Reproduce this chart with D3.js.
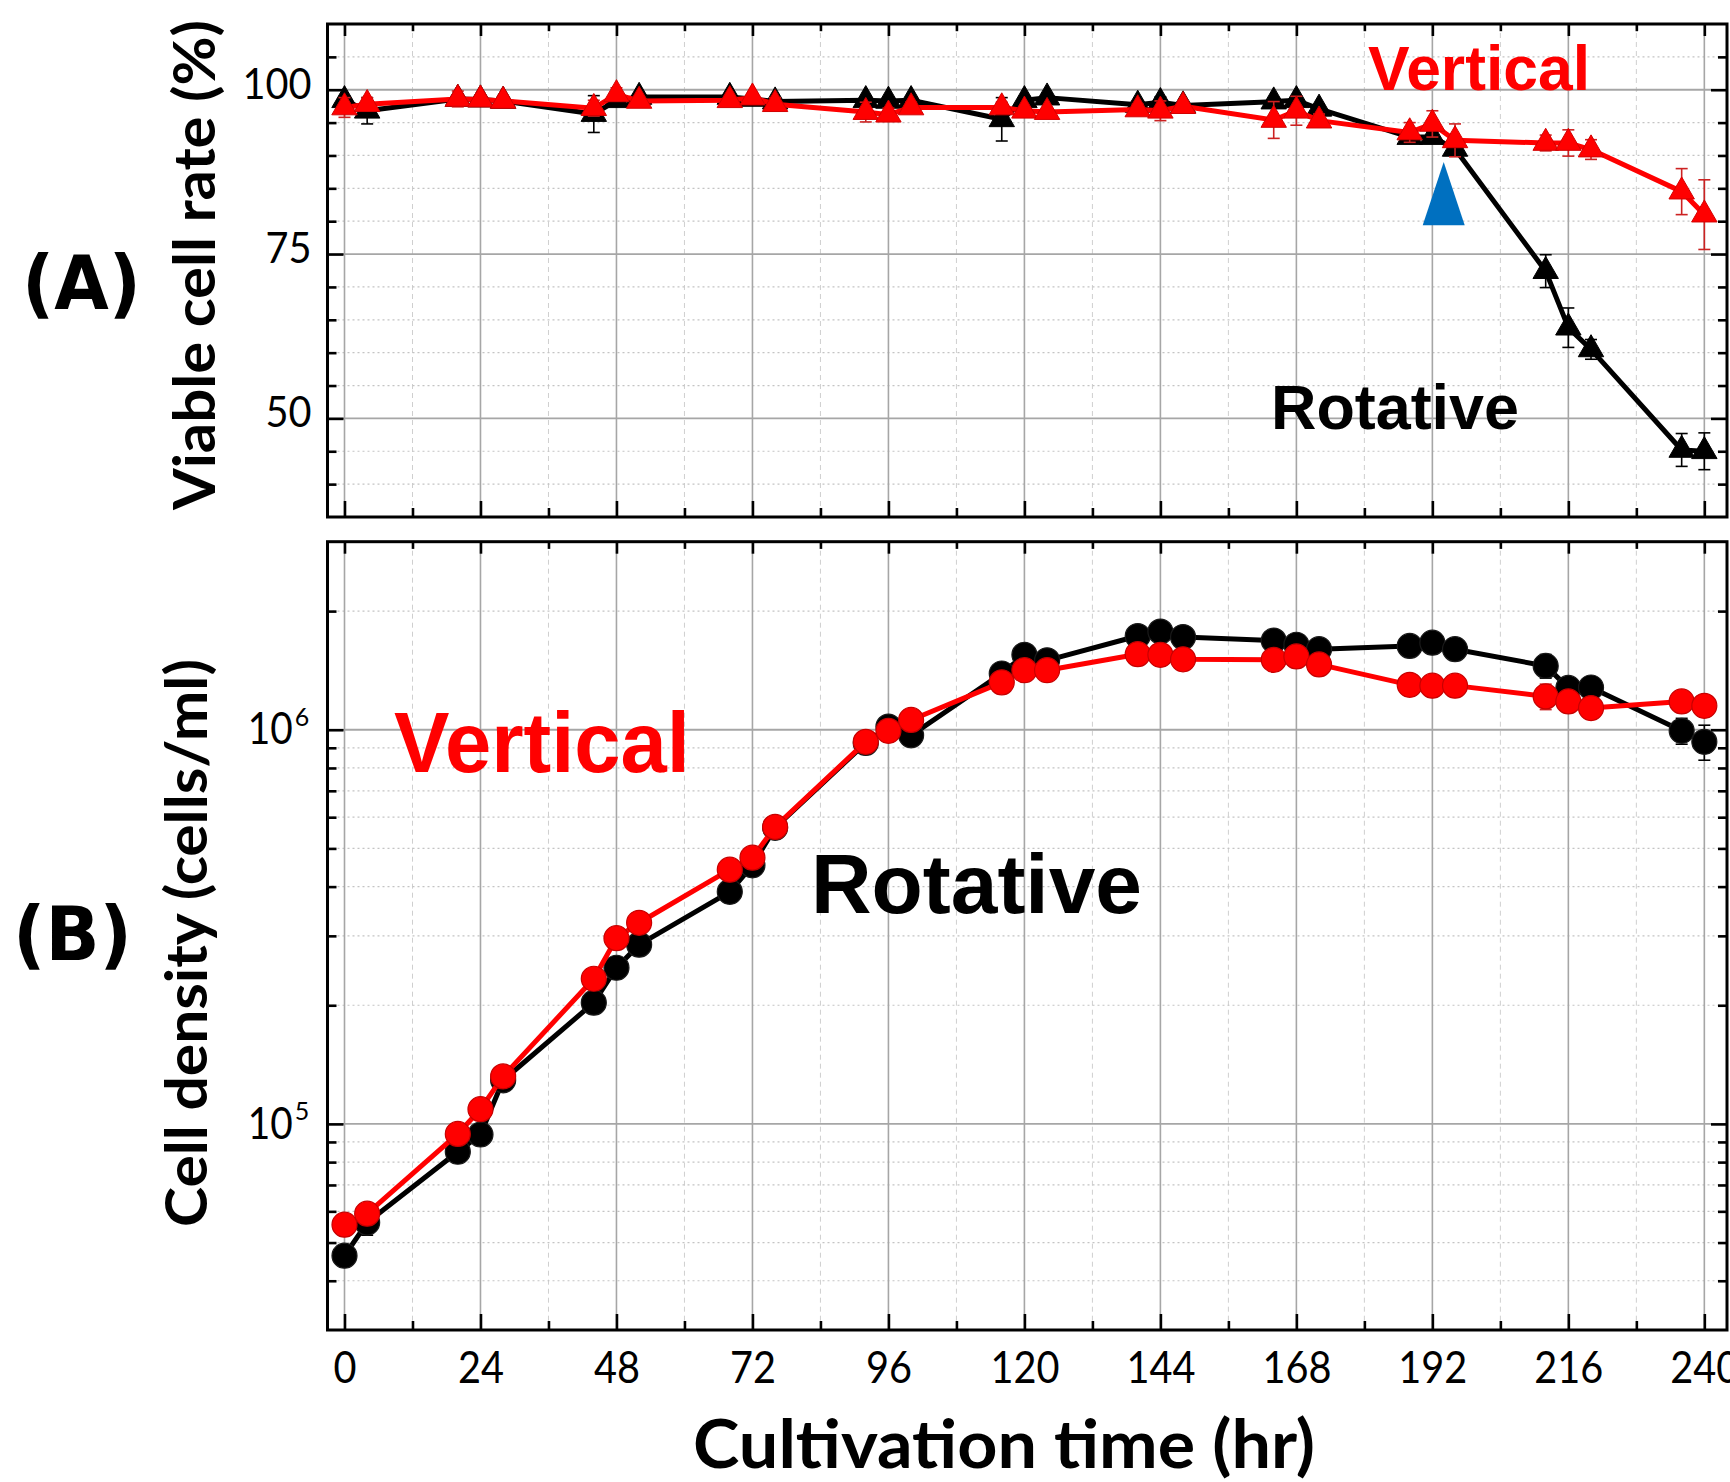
<!DOCTYPE html>
<html>
<head>
<meta charset="utf-8">
<script src="https://cdn.jsdelivr.net/npm/d3@7"></script>
<style>
  html, body { margin: 0; padding: 0; background: #fff; }
  svg { display: block; }
</style>
</head>
<body>
<svg id="chart" width="1730" height="1482"></svg>
<script>
// ---------------- DATA ----------------
const times = [0, 4, 20, 24, 28, 44, 48, 52, 68, 72, 76, 92, 96, 100, 116, 120, 124,
               140, 144, 148, 164, 168, 172, 188, 192, 196, 212, 216, 220, 236, 240];

// (A) Viable cell rate (%)
const viabRot = [98.4, 96.8, 98.6, 98.5, 98.3, 96.3, 98.4, 98.9, 98.9, 98.6, 98.2, 98.4, 98.3, 98.4, 95.5, 98.4, 98.8,
                 97.7, 98.1, 97.6, 98.2, 98.4, 97.1, 92.8, 92.8, 91.0, 72.4, 63.8, 60.5, 45.2, 45.0];
const viabRotErr = [0.6, 2.0, 0.5, 0.5, 0.5, 2.8, 0.8, 0.5, 0.5, 0.5, 0.5, 0.5, 0.5, 0.5, 3.3, 0.6, 0.5,
                    0.6, 0.8, 0.5, 0.6, 0.6, 0.6, 0.8, 0.8, 1.0, 2.5, 3.0, 1.5, 2.5, 2.8];
const viabVer = [97.3, 97.8, 98.6, 98.5, 98.3, 97.2, 99.3, 98.3, 98.4, 98.8, 97.8, 96.6, 96.2, 97.3, 97.3, 96.8, 96.6,
                 97.0, 96.8, 97.5, 95.4, 96.8, 95.3, 93.5, 94.8, 92.3, 91.9, 91.9, 90.9, 84.5, 81.0];
const viabVerErr = [1.5, 1.0, 1.2, 0.6, 0.8, 1.2, 1.0, 0.6, 0.6, 0.6, 1.0, 1.5, 1.0, 0.8, 0.8, 0.6, 0.6,
                    0.8, 1.5, 0.8, 2.8, 2.2, 1.0, 1.5, 2.0, 2.5, 1.2, 2.0, 1.5, 3.5, 5.3];

// (B) Cell density (cells/ml)
const densRot = [46300, 56200, 85000, 94000, 129000, 203000, 249000, 285000, 388000, 453000, 564000, 926000, 1019000, 968000,
                 1389000, 1549000, 1500000, 1729000, 1775000, 1718000, 1684000, 1643000, 1601000, 1632000, 1663000, 1601000,
                 1452000, 1277000, 1280000, 994000, 932000];
const densRotErr = [1500, 4000, 2000, 2500, 3000, 5000, 15000, 6000, 8000, 10000, 10000, 15000, 15000, 15000,
                    20000, 20000, 20000, 25000, 25000, 25000, 25000, 25000, 25000, 40000, 30000, 100000,
                    100000, 40000, 40000, 75000, 95000];
const densVer = [55500, 59200, 94300, 109000, 132000, 233500, 296000, 323800, 441500, 473600, 567000, 932000, 994000, 1059000,
                 1319000, 1416000, 1416000, 1555000, 1549000, 1509000, 1505000, 1535000, 1465000, 1300000, 1294000, 1294000,
                 1215000, 1180000, 1135000, 1180000, 1150000];
const densVerErr = [3000, 2000, 2000, 2500, 3000, 5000, 6000, 6000, 8000, 8000, 10000, 15000, 15000, 15000,
                    20000, 20000, 20000, 25000, 25000, 25000, 25000, 25000, 25000, 25000, 25000, 25000,
                    90000, 60000, 30000, 30000, 30000];

// Ticks
const xMajorTicks = [0, 24, 48, 72, 96, 120, 144, 168, 192, 216, 240];
const xMinorTicks = [12, 36, 60, 84, 108, 132, 156, 180, 204, 228];
const yMajorTicksA = [50, 75, 100];
const yMinorTicksA = [40, 45, 55, 60, 65, 70, 80, 85, 90, 95, 105];
const yMajorTicksB = [1e5, 1e6];
const yMinorTicksB = [4e4, 5e4, 6e4, 7e4, 8e4, 9e4, 2e5, 3e5, 4e5, 5e5, 6e5, 7e5, 8e5, 9e5, 2e6];

// Labels
const xTitle = "Cultivation time (hr)";
const yTitleA = "Viable cell rate (%)";
const yTitleB = "Cell density (cells/ml)";
const seriesNames = ["Rotative", "Vertical"];
const arrowAt = { t: 194, tip: 89, base: 79.4 };   // blue arrow annotation (data units)

// ---------------- LAYOUT ----------------
const svg = d3.select("#chart");
const X0 = 327.5, X1 = 1727;
const A = { top: 24, bottom: 517 };
const B = { top: 541.7, bottom: 1330 };

const x = d3.scaleLinear().domain([-3, 244]).range([X0, X1]);
const yA = d3.scaleLinear().domain([35, 110]).range([A.bottom, A.top]);
const yB = d3.scaleLog().domain([3e4, 3e6]).range([B.bottom, B.top]);

const RED = "#ff0000", BLACK = "#000000";
const tickFont = "Lato, 'Open Sans', sans-serif";

function panel(y, box, majorY, minorY) {
  const g = svg.append("g");
  g.selectAll(".vminor").data(xMinorTicks).join("line")
    .attr("x1", d => x(d)).attr("x2", d => x(d)).attr("y1", box.top).attr("y2", box.bottom)
    .attr("stroke", "#cfcfcf").attr("stroke-width", 1).attr("stroke-dasharray", "5,4");
  g.selectAll(".hminor").data(minorY).join("line")
    .attr("x1", X0).attr("x2", X1).attr("y1", d => y(d)).attr("y2", d => y(d))
    .attr("stroke", "#c4c4c4").attr("stroke-width", 1.2).attr("stroke-dasharray", "2,3");
  g.selectAll(".vmajor").data(xMajorTicks).join("line")
    .attr("x1", d => x(d)).attr("x2", d => x(d)).attr("y1", box.top).attr("y2", box.bottom)
    .attr("stroke", "#a6a6a6").attr("stroke-width", 1.6);
  g.selectAll(".hmajor").data(majorY).join("line")
    .attr("x1", X0).attr("x2", X1).attr("y1", d => y(d)).attr("y2", d => y(d))
    .attr("stroke", "#a6a6a6").attr("stroke-width", 1.8);
  return g;
}

function axesFor(y, box, majorY, minorY, showX) {
  const g = svg.append("g").attr("class", "axes");
  const MAJ = 16, MIN = 9;
  const style = sel => { sel.select(".domain").remove(); sel.selectAll("line").attr("stroke", "#000").attr("stroke-width", 2.6); };
  g.append("g").attr("transform", `translate(0,${box.bottom})`)
    .call(d3.axisBottom(x).tickValues(xMinorTicks).tickSize(-MIN).tickFormat("")).call(style);
  const bx = g.append("g").attr("transform", `translate(0,${box.bottom})`)
    .call(d3.axisBottom(x).tickValues(xMajorTicks).tickSizeInner(-MAJ).tickSizeOuter(0).tickPadding(22)
      .tickFormat(showX ? d3.format("d") : () => "")).call(style);
  bx.selectAll("text").attr("font-family", tickFont).attr("font-size", 44).attr("fill", "#000")
    .attr("textLength", d => String(d).length * 23).attr("lengthAdjust", "spacingAndGlyphs");
  g.append("g").attr("transform", `translate(0,${box.top})`)
    .call(d3.axisTop(x).tickValues(xMinorTicks).tickSize(-MIN * 0.8).tickFormat("")).call(style);
  g.append("g").attr("transform", `translate(0,${box.top})`)
    .call(d3.axisTop(x).tickValues(xMajorTicks).tickSize(-MAJ * 0.75).tickFormat("")).call(style);
  g.append("g").attr("transform", `translate(${X0},0)`)
    .call(d3.axisLeft(y).tickValues(minorY).tickSize(-MIN).tickFormat("")).call(style);
  const ly = g.append("g").attr("transform", `translate(${X0},0)`)
    .call(d3.axisLeft(y).tickValues(majorY).tickSizeInner(-MAJ).tickSizeOuter(0).tickPadding(16).tickFormat(d => d)).call(style);
  g.append("g").attr("transform", `translate(${X1},0)`)
    .call(d3.axisRight(y).tickValues(minorY).tickSize(-MIN).tickFormat("")).call(style);
  g.append("g").attr("transform", `translate(${X1},0)`)
    .call(d3.axisRight(y).tickValues(majorY).tickSize(-MAJ).tickFormat("")).call(style);
  g.append("rect").attr("x", X0).attr("y", box.top).attr("width", X1 - X0).attr("height", box.bottom - box.top)
    .attr("fill", "none").attr("stroke", "#000").attr("stroke-width", 3);
  return ly;
}

function errorBars(g, vals, errs, y, color) {
  const cap = 6;
  const eg = g.append("g").attr("stroke", color).attr("stroke-width", 1.6).attr("fill", "none");
  times.forEach((t, i) => {
    const cx = x(t), y1 = y(vals[i] + errs[i]), y2 = y(vals[i] - errs[i]);
    eg.append("line").attr("x1", cx).attr("x2", cx).attr("y1", y1).attr("y2", y2);
    eg.append("line").attr("x1", cx - cap).attr("x2", cx + cap).attr("y1", y1).attr("y2", y1);
    eg.append("line").attr("x1", cx - cap).attr("x2", cx + cap).attr("y1", y2).attr("y2", y2);
  });
}

function series(g, vals, errs, y, color, marker, errColor) {
  const line = d3.line().x((d, i) => x(times[i])).y(d => y(d));
  g.append("path").datum(vals).attr("d", line).attr("fill", "none")
    .attr("stroke", color).attr("stroke-width", 5).attr("stroke-linejoin", "round");
  errorBars(g, vals, errs, y, errColor);
  if (marker === "triangle") {
    const sym = d3.symbol().type(d3.symbolTriangle).size(280);
    g.selectAll(null).data(vals).join("path")
      .attr("d", sym)
      .attr("transform", (d, i) => `translate(${x(times[i])},${y(d)})`)
      .attr("fill", color).attr("stroke", color === RED ? "#d40000" : "#000").attr("stroke-width", 1);
  } else {
    g.selectAll(null).data(vals).join("circle")
      .attr("cx", (d, i) => x(times[i])).attr("cy", d => y(d)).attr("r", 12.5)
      .attr("fill", color).attr("stroke", color === RED ? "#c80000" : "#1a1a1a").attr("stroke-width", 1.2);
  }
}

// ---------------- PANEL A ----------------
panel(yA, A, yMajorTicksA, yMinorTicksA);
const lyA = axesFor(yA, A, yMajorTicksA, yMinorTicksA, false);
lyA.selectAll("text").attr("font-family", tickFont).attr("font-size", 42).attr("fill", "#000")
  .attr("dy", "0.2em")
  .attr("textLength", d => String(d).length * 23).attr("lengthAdjust", "spacingAndGlyphs");

const gA = svg.append("g");
series(gA, viabRot, viabRotErr, yA, BLACK, "triangle", "#000");
series(gA, viabVer, viabVerErr, yA, RED, "triangle", "#cc2222");

const ax = x(arrowAt.t);
gA.append("path")
  .attr("d", d3.line()([[ax, yA(arrowAt.tip)], [ax + 21, yA(arrowAt.base)], [ax - 21, yA(arrowAt.base)]]) + "Z")
  .attr("fill", "#0070c0");

// ---------------- PANEL B ----------------
panel(yB, B, yMajorTicksB, yMinorTicksB);
const lyB = axesFor(yB, B, yMajorTicksB, yMinorTicksB, true);
lyB.selectAll("text").each(function(d) {
  const t = d3.select(this).text("");
  t.attr("font-family", tickFont).attr("font-size", 44).attr("fill", "#000").attr("dx", "-0.05em");
  t.append("tspan").text("10").attr("textLength", 45).attr("lengthAdjust", "spacingAndGlyphs");
  t.append("tspan").text(Math.round(Math.log10(d))).attr("font-size", 25).attr("dy", "-0.75em").attr("dx", 2);
});

const gB = svg.append("g");
series(gB, densRot, densRotErr, yB, BLACK, "circle", "#000");
series(gB, densVer, densVerErr, yB, RED, "circle", "#cc2222");

// ---------------- TEXT ----------------
svg.append("text").text(xTitle)
  .attr("x", 1004).attr("y", 1468).attr("text-anchor", "middle")
  .attr("font-family", "Lato, 'Open Sans', sans-serif").attr("font-weight", 700).attr("font-size", 66)
  .attr("textLength", 622).attr("lengthAdjust", "spacingAndGlyphs");

svg.append("text").text(yTitleA)
  .attr("transform", "translate(215,265) rotate(-90)").attr("text-anchor", "middle")
  .attr("font-family", "Lato, 'Open Sans', sans-serif").attr("font-weight", 700).attr("font-size", 58)
  .attr("textLength", 490).attr("lengthAdjust", "spacingAndGlyphs");

svg.append("text").text(yTitleB)
  .attr("transform", "translate(207,943) rotate(-90)").attr("text-anchor", "middle")
  .attr("font-family", "Lato, 'Open Sans', sans-serif").attr("font-weight", 700).attr("font-size", 58)
  .attr("textLength", 568).attr("lengthAdjust", "spacingAndGlyphs");

svg.append("text").text("(A)").attr("x", 22).attr("y", 309)
  .attr("font-family", "'DejaVu Sans', sans-serif").attr("font-weight", 700).attr("font-size", 75)
  .attr("textLength", 119).attr("lengthAdjust", "spacingAndGlyphs");
svg.append("text").text("(B)").attr("x", 13).attr("y", 960)
  .attr("font-family", "'DejaVu Sans', sans-serif").attr("font-weight", 700).attr("font-size", 75)
  .attr("textLength", 119).attr("lengthAdjust", "spacingAndGlyphs");

const annFont = "'Liberation Sans', Arial, sans-serif";
function ann(txt, xx, yy, size, len, color) {
  svg.append("text").text(txt).attr("x", xx).attr("y", yy)
    .attr("font-family", annFont).attr("font-weight", 700).attr("font-size", size).attr("fill", color)
    .attr("textLength", len).attr("lengthAdjust", "spacingAndGlyphs");
}
ann(seriesNames[1], 1368, 89.5, 63, 222, RED);
ann(seriesNames[0], 1271, 429, 63, 248, BLACK);
ann(seriesNames[1], 394, 772, 85, 296, RED);
ann(seriesNames[0], 811, 913, 84, 331, BLACK);
</script>
</body>
</html>
